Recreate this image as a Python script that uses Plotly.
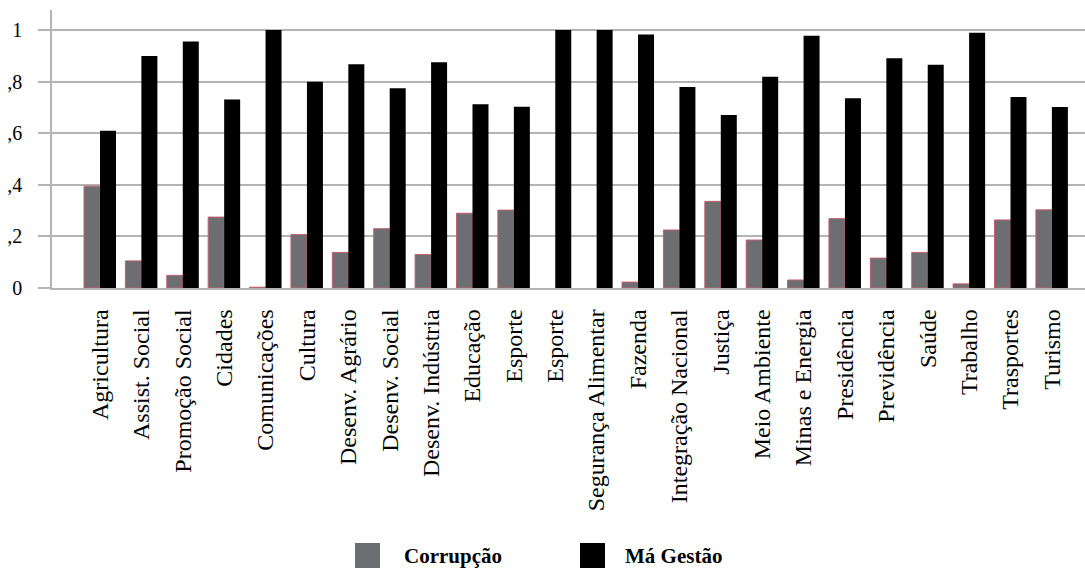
import plotly.graph_objects as go

# Ministries (note: "Esporte" appears twice in the source table)
categories = [
    "Agricultura", "Assist. Social", "Promoção Social", "Cidades", "Comunicações",
    "Cultura", "Desenv. Agrário", "Desenv. Social", "Desenv. Indústria", "Educação",
    "Esporte", "Esporte", "Segurança Alimentar", "Fazenda", "Integração Nacional",
    "Justiça", "Meio Ambiente", "Minas e Energia", "Presidência", "Previdência",
    "Saúde", "Trabalho", "Trasportes", "Turismo",
]

corrupcao = [0.395, 0.105, 0.049, 0.275, 0.003, 0.207, 0.138, 0.230, 0.130, 0.290,
             0.302, 0.0, 0.0, 0.023, 0.225, 0.336, 0.186, 0.031, 0.269, 0.116,
             0.138, 0.016, 0.264, 0.303]
ma_gestao = [0.610, 0.900, 0.956, 0.731, 1.000, 0.800, 0.868, 0.775, 0.875, 0.713,
             0.703, 1.000, 1.000, 0.983, 0.779, 0.671, 0.819, 0.978, 0.736, 0.891,
             0.866, 0.990, 0.741, 0.702]

series_names = ["Corrupção", "Má Gestão"]
ytick_vals = [0, 0.2, 0.4, 0.6, 0.8, 1.0]
ytick_text = ["0", ",2", ",4", ",6", ",8", "1"]

FONT = "Liberation Serif, Times New Roman, serif"
GREY = "#6d6e71"
GRID = "#b4b4b4"

W, H = 1085, 568
L, R, T, B = 52, 0, 10, 280

xpos = list(range(len(categories)))

fig = go.Figure()
fig.add_trace(go.Bar(
    x=xpos, y=corrupcao, name=series_names[0],
    marker=dict(color=GREY,
                line=dict(color="#c0606a",
                          width=[1 if v > 0 else 0 for v in corrupcao])),
))
fig.add_trace(go.Bar(
    x=xpos, y=ma_gestao, name=series_names[1],
    marker=dict(color="#000000", line=dict(color="#000000", width=0)),
))


def px_x(p):
    return (p - L) / (W - L - R)


def px_y(p):
    return (H - B - p) / (H - B - T)


# legend drawn as swatches + bold labels centred under the chart
shapes = []
annotations = []
legend_items = [(355, 402, GREY, series_names[0]), (580, 623, "#000000", series_names[1])]
for sx, tx, col, label in legend_items:
    shapes.append(dict(type="rect", xref="paper", yref="paper",
                       x0=px_x(sx), x1=px_x(sx + 25), y0=px_y(543), y1=px_y(568),
                       fillcolor=col, line=dict(width=0), layer="above"))
    annotations.append(dict(xref="paper", yref="paper", x=px_x(tx), y=px_y(556),
                            xanchor="left", yanchor="middle", showarrow=False,
                            text="<b>" + label + "</b>",
                            font=dict(family=FONT, size=21, color="#000000")))

n = len(categories)
fig.update_layout(
    width=W, height=H,
    margin=dict(l=L, r=R, t=T, b=B),
    paper_bgcolor="white", plot_bgcolor="white",
    barmode="group", bargap=0.227, bargroupgap=0,
    showlegend=False,
    font=dict(family=FONT, color="#000000"),
    shapes=shapes, annotations=annotations,
    xaxis=dict(
        range=[-1.16, n - 1 + 0.80],
        tickmode="array", tickvals=xpos, ticktext=categories,
        tickangle=-90, tickfont=dict(family=FONT, size=24, color="#000000"),
        ticks="", ticklabelstandoff=10,
        showgrid=False, zeroline=False,
        showline=True, linecolor=GRID, linewidth=1.5,
    ),
    yaxis=dict(
        range=[0, 1.078],
        tickmode="array", tickvals=ytick_vals, ticktext=ytick_text,
        tickfont=dict(family=FONT, size=20, color="#000000"),
        ticks="outside", ticklen=12, tickcolor=GRID, tickwidth=1.5,
        ticklabelstandoff=12,
        showgrid=True, gridcolor=GRID, gridwidth=1.5,
        zeroline=False,
        showline=True, linecolor=GRID, linewidth=1.5,
    ),
)

fig.write_html("out.html")
